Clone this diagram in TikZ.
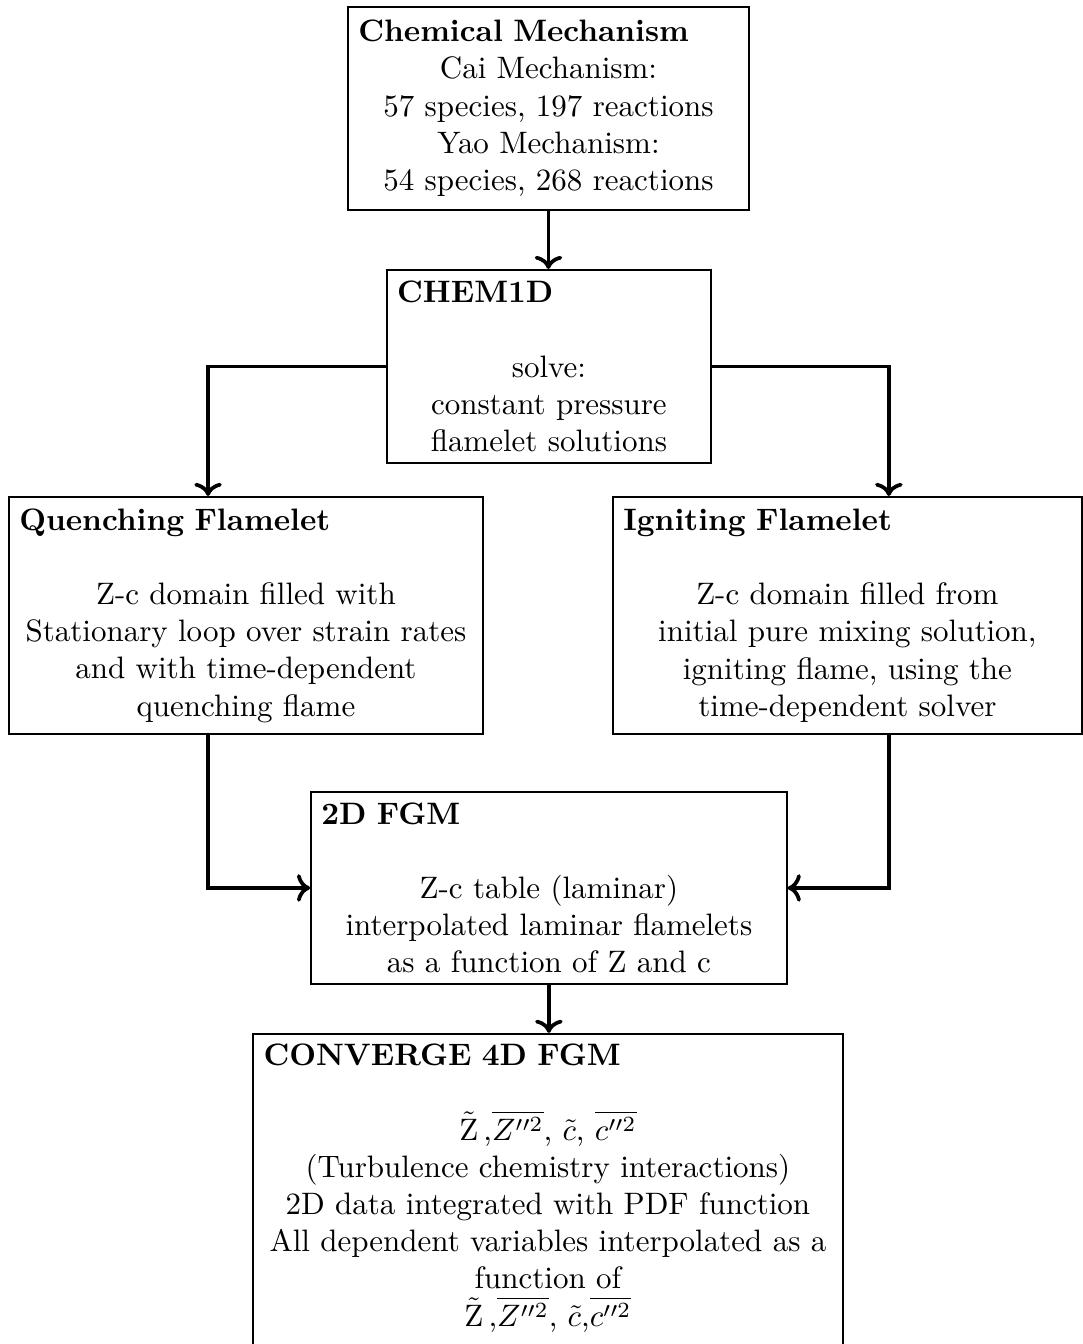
\documentclass[tikz,border=0pt]{standalone}
\usepackage{amsmath,amssymb}
\usepackage{tikz}
\usetikzlibrary{arrows.meta}
\usetikzlibrary{calc}

% Bold title pushed to the left edge of a centred block
\newcommand{\blocktitle}[1]{\makebox[\linewidth][l]{\textbf{#1}}}

\begin{document}
\begin{tikzpicture}[
    % Node styles
    block/.style={rectangle, draw=black, line width=0.6pt, align=center, inner sep=0.3333em, anchor=north},
    % Connectors
    flow/.style={line width=1.2pt, ->, draw=black}
]
    \useasboundingbox (0,0) rectangle (12.28,-15.24);

    % =========================================================================
    % 1. TOP: MECHANISM AND SOLVER
    % =========================================================================
    \node[block, text width=4.31cm, minimum height=2.30cm] (mech) at (6.219,-0.068)
        {\blocktitle{Chemical Mechanism}\\
         Cai Mechanism:\\ 57 species, 197 reactions\\
         Yao Mechanism:\\ 54 species, 268 reactions};

    \node[block, text width=3.44cm, minimum height=2.19cm] (chem) at (6.224,-3.050)
        {\blocktitle{CHEM1D}\\[\baselineskip]
         solve:\\ constant pressure\\ flamelet solutions};

    % =========================================================================
    % 2. MIDDLE: THE TWO FLAMELET TYPES
    % =========================================================================
    \node[block, text width=5.14cm, minimum height=2.69cm] (quench) at (2.789,-5.624)
        {\blocktitle{Quenching Flamelet}\\[\baselineskip]
         Z-c domain filled with\\ Stationary loop over strain rates\\
         and with time-dependent\\ quenching flame};

    \node[block, text width=5.08cm, minimum height=2.69cm] (ignite) at (9.609,-5.624)
        {\blocktitle{Igniting Flamelet}\\[\baselineskip]
         Z-c domain filled from\\ initial pure mixing solution,\\
         igniting flame, using the\\ time-dependent solver};

    % =========================================================================
    % 3. BOTTOM: TABLES
    % =========================================================================
    \node[block, text width=5.16cm, minimum height=2.18cm] (fgm) at (6.224,-8.968)
        {\blocktitle{2D FGM}\\[\baselineskip]
         Z-c table (laminar)\\ interpolated laminar flamelets\\
         as a function of Z and c};

    \node[block, text width=6.45cm] (conv) at (6.213,-11.712)
        {\blocktitle{CONVERGE 4D FGM}\\[\baselineskip]
         $\tilde{\mathrm{Z}}$\,,$\overline{Z''^2}$, $\tilde{c}$, $\overline{c''^2}$\\
         (Turbulence chemistry interactions)\\
         2D data integrated with PDF function\\
         All dependent variables interpolated as a\\ function of\\
         $\tilde{\mathrm{Z}}$\,,$\overline{Z''^2}$, $\tilde{c}$,$\overline{c''^2}$\rule[-9pt]{0pt}{9pt}};

    % --- Connectors ---
    \draw[flow] (mech.south) -- (mech.south |- chem.north);
    \draw[flow] (chem.west) -| ([xshift=-0.43cm]quench.north);
    \draw[flow] (chem.east) -| ([xshift=0.47cm]ignite.north);
    \draw[flow] ([xshift=-0.43cm]quench.south) |- (fgm.west);
    \draw[flow] ([xshift=0.47cm]ignite.south) |- (fgm.east);
    \draw[flow] (fgm.south) -- (fgm.south |- conv.north);

\end{tikzpicture}
\end{document}
